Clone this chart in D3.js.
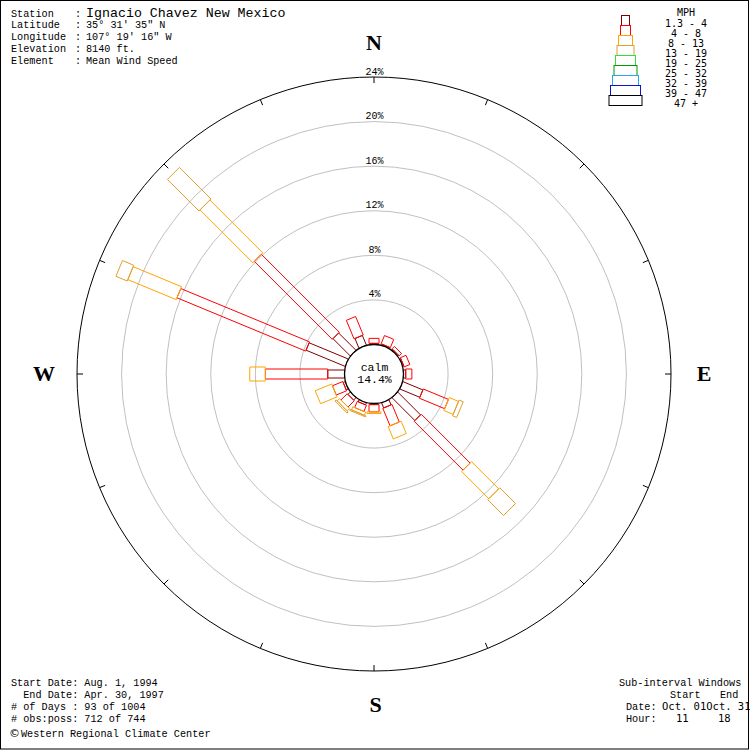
<!DOCTYPE html>
<html><head><meta charset="utf-8">
<script src="https://cdn.jsdelivr.net/npm/d3@7"></script>
<style>body{margin:0;background:#fff}svg{display:block}text{white-space:pre}</style>
</head><body>
<script>
// ---- data ----
const directions = ["N","NNE","NE","ENE","E","ESE","SE","SSE","S","SSW","SW","WSW","W","WNW","NW","NNW"];
const speedClasses = ["1.3 - 4","4 - 8","8 - 13","13 - 19","19 - 25","25 - 32","32 - 39","39 - 47","47 +"];
const classColors = ["#800000","#ff0000","#ffa500","#e0a030","#33dd33","#009900","#22a8ee","#1111cc","#000000"];
// percent frequency per direction, one value per speed class (1.3-4, 4-8, 8-13, 13-19)
const freqN   = [0.10, 0.45];
const freqNNE = [0.10, 0.80];
const freqNE  = [0.10, 0.30];
const freqENE = [0.10, 0.55];
const freqE   = [0.20, 0.55];
const freqESE = [1.95, 2.45, 0.90, 0.40];
const freqSE  = [2.90, 6.20, 3.45, 2.00];
const freqSSE = [0.50, 1.70, 1.20];
const freqS   = [0.10, 0.65, 0.15];
const freqSSW = [0.20, 0.60, 0.30, 0.10];
const freqSW  = [0.30, 0.80, 0.30, 0.15];
const freqWSW = [0.20, 1.00, 1.60];
const freqW   = [1.50, 5.60, 1.40];
const freqWNW = [3.80, 12.50, 4.70, 1.10];
const freqNW  = [2.20, 9.90, 6.70, 4.00];
const freqNNW = [0.95, 1.80];
const calmPct = "14.4%";
const gridTicks = [4, 8, 12, 16, 20, 24];
const headerLabels = ["Station", "Latitude", "Longitude", "Elevation", "Element"];
const headerValues = ["Ignacio Chavez New Mexico", "35° 31' 35\" N", "107° 19' 16\" W", "8140 ft.", "Mean Wind Speed"];
const footerLines = ["Start Date: Aug. 1, 1994", "  End Date: Apr. 30, 1997", "# of Days : 93 of 1004", "# obs:poss: 712 of 744"];
const credit = "Western Regional Climate Center";
const compass = ["N","E","S","W"];

const freqs = [freqN,freqNNE,freqNE,freqENE,freqE,freqESE,freqSE,freqSSE,freqS,freqSSW,freqSW,freqWSW,freqW,freqWNW,freqNW,freqNNW];

// ---- drawing ----
const W = 750, H = 750, cx = 374, cy = 374, calmR = 29.5, outerR = 297;
const classWidths = [8, 10, 14, 17, 20, 23, 26, 30, 33];
const svg = d3.select("body").append("svg").attr("width", W).attr("height", H);
svg.append("rect").attr("width", W).attr("height", H).attr("fill", "#fff");
svg.append("rect").attr("x", 0.5).attr("y", 0.5).attr("width", 748).attr("height", 748.5)
  .attr("fill", "none").attr("stroke", "#000");

const r = d3.scaleLinear().domain([0, 24]).range([calmR, outerR]);
const ang = d3.scalePoint().domain(directions).range([0, 360 - 22.5]);

const g = svg.append("g").attr("transform", `translate(${cx},${cy})`);

// grid circles
g.selectAll("circle.grid").data(gridTicks.slice(0, -1)).join("circle")
  .attr("r", d => r(d)).attr("fill", "none").attr("stroke", "#c0c0c0").attr("stroke-width", 1);
g.append("circle").attr("r", r(24)).attr("fill", "none").attr("stroke", "#000").attr("stroke-width", 1);

// ticks on outer circle
g.selectAll("line.tick").data(directions).join("line")
  .attr("x1", d => Math.sin(ang(d) * Math.PI / 180) * outerR)
  .attr("y1", d => -Math.cos(ang(d) * Math.PI / 180) * outerR)
  .attr("x2", d => Math.sin(ang(d) * Math.PI / 180) * (outerR - 6))
  .attr("y2", d => -Math.cos(ang(d) * Math.PI / 180) * (outerR - 6))
  .attr("stroke", "#000");

// percent labels
g.selectAll("text.pct").data(gridTicks).join("text")
  .attr("x", 0.5).attr("y", d => -r(d) - 2.5)
  .attr("text-anchor", "middle").attr("font-family", "Liberation Mono, monospace").attr("font-size", 10)
  .text(d => d + "%");

// petals
function rectPath(theta, r0, r1, w) {
  const t = theta * Math.PI / 180;
  const ux = Math.sin(t), uy = -Math.cos(t), px = Math.cos(t), py = Math.sin(t);
  const h = w / 2;
  const pts = [
    [ux * r0 + px * h, uy * r0 + py * h],
    [ux * r1 + px * h, uy * r1 + py * h],
    [ux * r1 - px * h, uy * r1 - py * h],
    [ux * r0 - px * h, uy * r0 - py * h]
  ];
  return "M" + pts.map(p => p[0].toFixed(2) + "," + p[1].toFixed(2)).join("L") + "Z";
}
const segs = [];
directions.forEach((d, i) => {
  let cum = 0;
  freqs[i].forEach((v, c) => {
    if (v > 0) segs.push({ dir: d, c, r0: r(cum), r1: r(cum + v) });
    cum += v;
  });
});
g.selectAll("path.petal").data(segs).join("path")
  .attr("d", s => rectPath(ang(s.dir), s.r0, s.r1, classWidths[s.c]))
  .attr("fill", "none").attr("stroke", s => classColors[s.c]).attr("stroke-width", 1);

// calm circle
g.append("circle").attr("r", calmR).attr("fill", "#fff").attr("stroke", "#000").attr("stroke-width", 1.3);
g.append("text").attr("x", 0.5).attr("y", -3.5).attr("text-anchor", "middle")
  .attr("font-family", "Liberation Mono, monospace").attr("font-size", 11.5).text("calm");
g.append("text").attr("x", 0.5).attr("y", 8.5).attr("text-anchor", "middle")
  .attr("font-family", "Liberation Mono, monospace").attr("font-size", 11.5).text(calmPct);

// compass letters
const compassAng = { N: 0, E: 90, S: 180, W: 270 };
g.selectAll("text.cmp").data(compass).join("text")
  .attr("x", d => Math.sin(compassAng[d] * Math.PI / 180) * 330 + (d === "S" ? 1.5 : 0))
  .attr("y", d => -Math.cos(compassAng[d] * Math.PI / 180) * 331 + 7)
  .attr("text-anchor", "middle").attr("font-family", "Liberation Serif, serif")
  .attr("font-weight", "bold").attr("font-size", 22).text(d => d);

// header
const mono = "Liberation Mono, monospace";
headerLabels.forEach((t, i) => {
  const y = 16.5 + i * 11.8;
  svg.append("text").attr("x", 11).attr("y", y).attr("font-family", mono).attr("font-size", 10.2).text(t);
  svg.append("text").attr("x", 75).attr("y", y).attr("font-family", mono).attr("font-size", 10.2).text(":");
  svg.append("text").attr("x", 86).attr("y", y).attr("font-family", mono)
    .attr("font-size", i === 0 ? 13.3 : 10.2).text(headerValues[i]);
});

// footer left
footerLines.forEach((t, i) => {
  svg.append("text").attr("x", 11).attr("y", 686 + i * 12).attr("font-family", mono).attr("font-size", 10.2).text(t);
});
svg.append("text").attr("x", 9).attr("y", 737).attr("font-family", "DejaVu Sans, sans-serif").attr("font-size", 11).text("©");
svg.append("text").attr("x", 21).attr("y", 737).attr("font-family", mono).attr("font-size", 10.2).text(credit);

// footer right
svg.append("text").attr("x", 619).attr("y", 686).attr("font-family", mono).attr("font-size", 10.2).text("Sub-interval Windows");
svg.append("text").attr("x", 670).attr("y", 698).attr("font-family", mono).attr("font-size", 10.2).text("Start");
svg.append("text").attr("x", 720).attr("y", 698).attr("font-family", mono).attr("font-size", 10.2).text("End");
svg.append("text").attr("x", 626).attr("y", 710).attr("font-family", mono).attr("font-size", 10.2).text("Date:");
svg.append("text").attr("x", 626).attr("y", 722).attr("font-family", mono).attr("font-size", 10.2).text("Hour:");
const sans = "DejaVu Sans Mono, monospace";
svg.append("text").attr("x", 662).attr("y", 710).attr("font-family", sans).attr("font-size", 10.5).text("Oct. 01Oct. 31");
svg.append("text").attr("x", 676).attr("y", 722).attr("font-family", sans).attr("font-size", 10.5).text("11");
svg.append("text").attr("x", 718).attr("y", 722).attr("font-family", sans).attr("font-size", 10.5).text("18");

// legend
const legX = 625, legY0 = 15, legH = 10;
const lg = svg.append("g");
lg.selectAll("rect").data(speedClasses).join("rect")
  .attr("x", (d, i) => legX - classWidths[i] / 2 + 0.5)
  .attr("y", (d, i) => legY0 + i * legH + 0.5)
  .attr("width", (d, i) => classWidths[i]).attr("height", legH)
  .attr("fill", "none").attr("stroke", (d, i) => classColors[i]).attr("stroke-width", 1);
lg.append("text").attr("x", 686).attr("y", 15.5).attr("text-anchor", "middle")
  .attr("font-family", sans).attr("font-size", 10).text("MPH");
lg.selectAll("text.cls").data(speedClasses).join("text")
  .attr("x", 686).attr("y", (d, i) => 26.5 + i * 10).attr("text-anchor", "middle")
  .attr("font-family", sans).attr("font-size", 10).text(d => d);
</script>
</body></html>
